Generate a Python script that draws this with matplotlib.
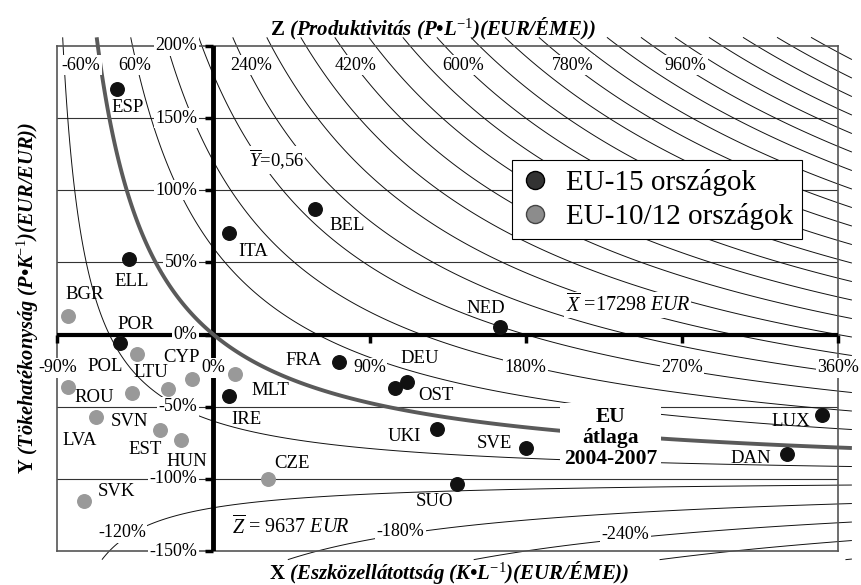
import numpy as np
import matplotlib.pyplot as plt
from matplotlib.lines import Line2D

plt.rcParams['font.family'] = ['Liberation Serif', 'DejaVu Serif']
plt.rcParams['mathtext.fontset'] = 'custom'
plt.rcParams['mathtext.rm'] = 'Liberation Serif'
plt.rcParams['mathtext.it'] = 'Liberation Serif:italic'
plt.rcParams['mathtext.bf'] = 'Liberation Serif:bold'
plt.rcParams['contour.negative_linestyle'] = 'solid'

# EU-15 országok: X = eszközellátottság, Y = tőkehatékonyság (eltérés az EU átlagtól)
eu15_orszag = ['ESP', 'ELL', 'POR', 'ITA', 'BEL', 'NED', 'FRA', 'DEU',
               'OST', 'IRE', 'UKI', 'SVE', 'SUO', 'LUX', 'DAN']
eu15_x = [-0.554, -0.485, -0.538, 0.091, 0.587, 1.654, 0.721, 1.116,
          1.044, 0.087, 1.289, 1.803, 1.404, 3.505, 3.305]
eu15_y = [1.700, 0.526, -0.060, 0.702, 0.870, 0.051, -0.192, -0.326,
          -0.372, -0.423, -0.654, -0.784, -1.037, -0.557, -0.830]

# EU-10/12 országok
eu12_orszag = ['BGR', 'POL', 'LTU', 'CYP', 'ROU', 'LVA', 'SVN', 'EST',
               'HUN', 'SVK', 'CZE', 'MLT']
eu12_x = [-0.840, -0.442, -0.260, -0.121, -0.840, -0.679, -0.467, -0.308,
          -0.186, -0.744, 0.314, 0.125]
eu12_y = [0.131, -0.137, -0.377, -0.308, -0.361, -0.573, -0.403, -0.661,
          -0.730, -1.153, -1.003, -0.273]

# tengely osztások
x_tickek = [-0.9, 0.0, 0.9, 1.8, 2.7, 3.6]
y_tickek = [2.0, 1.5, 1.0, 0.5, 0.0, -0.5, -1.0, -1.5]

# Z (produktivitás) szintvonalak, 60%-onként
z_szintek = [-3.6, -3.0, -2.4, -1.8, -1.2, -0.6, 0.6, 1.2, 1.8, 2.4, 3.0,
             3.6, 4.2, 4.8, 5.4, 6.0, 6.6, 7.2, 7.8, 8.4, 9.0, 9.6, 10.2,
             10.8, 11.4, 12.0, 12.6]
z_cimkek = ['-60%', '60%', '240%', '420%', '600%', '780%', '960%',
            '-120%', '-180%', '-240%']
z_cimke_hely = [(-0.763, 1.868), (-0.452, 1.868), (0.217, 1.868),
                (0.818, 1.868), (1.441, 1.868), (2.070, 1.868),
                (2.722, 1.868), (-0.527, -1.375), (1.077, -1.368),
                (2.376, -1.389)]

# címkék eltolása pixelben (dx, dy felfelé)
cimke_eltolas = {
    'ESP': (10, -18), 'ELL': (2, -23), 'POR': (16, 19), 'ITA': (24, -18),
    'BEL': (32, -16), 'NED': (-15, 19), 'FRA': (-35, 2), 'DEU': (13, 23),
    'OST': (41, -7), 'IRE': (18, -24), 'UKI': (-33, -8), 'SVE': (-32, 4),
    'SUO': (-23, -17), 'LUX': (-31, -7), 'DAN': (-36, -4),
    'BGR': (17, 21), 'POL': (-32, -12), 'LTU': (-17, 16), 'CYP': (-11, 22),
    'ROU': (27, -11), 'LVA': (-16, -23), 'SVN': (-3, -29), 'EST': (-15, -20),
    'HUN': (6, -22), 'SVK': (32, 9), 'CZE': (24, 16), 'MLT': (35, -17),
}

fig = plt.figure(figsize=(8.61, 5.85), dpi=100)
ax = fig.add_axes([0.0666, 0.0581, 0.9067, 0.8633])
ax.set_xlim(-0.9, 3.6)
ax.set_ylim(-1.5, 2.0)
ax.set_xticks([])
ax.set_yticks([])
for s in ax.spines.values():
    s.set_color('#555555')
    s.set_linewidth(1.2)

# szintvonalak - a kereten kicsit túlnyúlnak
gx = np.linspace(-0.9, 3.68, 500)
gy = np.linspace(-1.56, 2.06, 500)
XX, YY = np.meshgrid(gx, gy)
ZZ = (1 + XX) * (1 + YY) - 1
cs = ax.contour(XX, YY, ZZ, levels=z_szintek, colors='#111111',
                linewidths=0.7, zorder=2)
cs.set_clip_on(False)
eu = ax.contour(XX, YY, ZZ, levels=[0], colors='#5a5a5a',
                linewidths=2.8, zorder=4)
eu.set_clip_on(False)

# rácsvonalak
for v in y_tickek[1:-1]:
    if v != 0:
        ax.axhline(v, color='#333333', lw=0.8, zorder=1)

# vastag tengelyek
ax.axhline(0, color='k', lw=3, zorder=3)
ax.axvline(0, color='k', lw=3.5, zorder=3)
ax.plot(x_tickek, [0] * len(x_tickek), ls='none', marker=3, ms=6,
        mew=2.5, color='k', zorder=3, clip_on=False)
ax.plot([0] * len(y_tickek), y_tickek, ls='none', marker=0, ms=6,
        mew=2.5, color='k', zorder=3, clip_on=False)

feher = dict(fc='white', ec='none', pad=1)
for v in y_tickek:
    ax.annotate(f'{round(v * 100)}%', (0, v), xytext=(-16, 0),
                textcoords='offset pixels', ha='right', va='center',
                fontsize=13, bbox=feher, zorder=8, annotation_clip=False)
for v in x_tickek:
    ax.annotate(f'{round(v * 100)}%', (v, 0), xytext=(0, -33),
                textcoords='offset pixels', ha='center', va='center',
                fontsize=13, bbox=feher, zorder=8, annotation_clip=False)

for t, (cx, cy) in zip(z_cimkek, z_cimke_hely):
    ax.text(cx, cy, t, ha='center', va='center', fontsize=13,
            bbox=feher, zorder=8)

# átlag feliratok
ax.text(0.363, 1.21, r'$\overline{Y}$=0,56', ha='center', va='center',
        fontsize=13.5, bbox=feher, zorder=8)
ax.text(2.388, 0.205, r'$\overline{X}$ =17298 $EUR$', ha='center',
        va='center', fontsize=14.5, bbox=feher, zorder=8)
ax.text(0.448, -1.333, r'$\overline{Z}$ = 9637 $EUR$', ha='center',
        va='center', fontsize=14.5, bbox=feher, zorder=8)
ax.text(2.289, -0.717, 'EU\nátlaga\n2004-2007', ha='center', va='center',
        fontsize=15.5, fontweight='bold', linespacing=1.05,
        bbox=dict(fc='white', ec='none', pad=3), zorder=8)

# pontok
ax.scatter(eu15_x, eu15_y, s=95, c='#111111', zorder=9)
ax.scatter(eu12_x, eu12_y, s=95, c='#999999', zorder=9)
for nev, x, y in zip(eu15_orszag + eu12_orszag, eu15_x + eu12_x,
                     eu15_y + eu12_y):
    ax.annotate(nev, (x, y), xytext=cimke_eltolas[nev],
                textcoords='offset pixels', ha='center', va='center',
                fontsize=13.5, zorder=9)

jelek = [Line2D([], [], ls='none', marker='o', ms=13, mfc='#333333',
                mec='#000000', label='EU-15 országok'),
         Line2D([], [], ls='none', marker='o', ms=13, mfc='#8c8c8c',
                mec='#444444', label='EU-10/12 országok')]
leg = ax.legend(handles=jelek, loc='upper left', bbox_to_anchor=(0.582, 0.774),
                fontsize=21, frameon=True, fancybox=False, edgecolor='k',
                framealpha=1, borderpad=0.3, handletextpad=0.55,
                labelspacing=0.25, borderaxespad=0, handlelength=1.0)
leg.get_frame().set_linewidth(0.8)
leg.set_zorder(10)

# tengelycímek
fig.text(0.503, 0.950, r'$\mathbf{Z}$ (Produktivitás (P•L$^{-1}$)(EUR/ÉME))',
         ha='center', va='center', fontsize=15, fontweight='bold',
         style='italic')
fig.text(0.5215, 0.0103, r'$\mathbf{X}$ (Eszközellátottság (K•L$^{-1}$)(EUR/ÉME))',
         ha='center', va='baseline', fontsize=15, fontweight='bold',
         style='italic')
fig.text(0.0325, 0.491, r'$\mathbf{Y}$ (Tökehatékonyság (P•K$^{-1}$)(EUR/EUR))',
         ha='center', va='center', fontsize=14.7, fontweight='bold',
         style='italic', rotation=90)

fig.savefig('out.png', dpi=100)
